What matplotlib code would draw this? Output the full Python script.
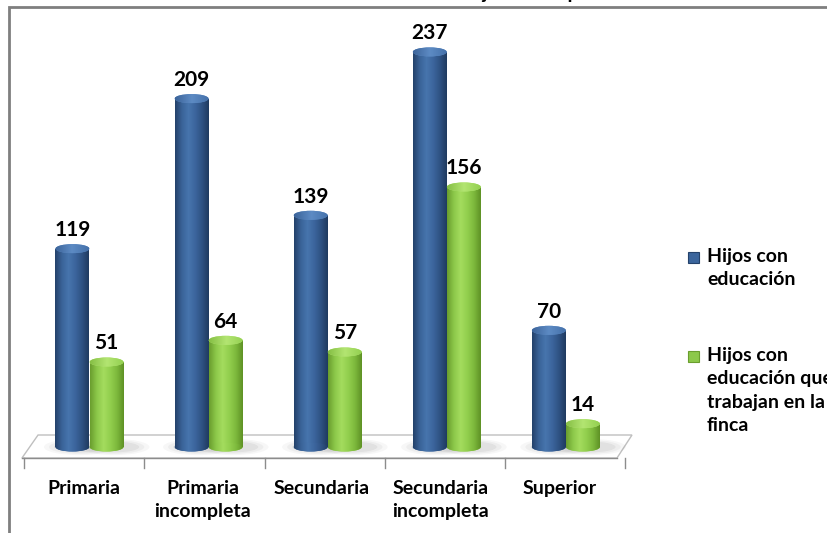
import numpy as np
import matplotlib
matplotlib.use("Agg")
import matplotlib.pyplot as plt
from matplotlib.patches import Rectangle, Ellipse, Polygon
from matplotlib.colors import LinearSegmentedColormap

plt.rcParams['font.family'] = ['Lato', 'DejaVu Sans']

# data
categories = ["Primaria", "Primaria\nincompleta", "Secundaria",
              "Secundaria\nincompleta", "Superior"]
hijos_educacion = [119, 209, 139, 237, 70]
hijos_trabajan = [51, 64, 57, 156, 14]
series_names = ["Hijos con\neducación", "Hijos con\neducación que\ntrabajan en la\nfinca"]
title = "Nivel de educación de los hijos de los productores"

W, H = 828, 533
fig = plt.figure(figsize=(W / 100, H / 100), dpi=100)
ax = fig.add_axes([0, 0, 1, 1])
ax.set_axis_off()

# pixel mapping: category i centre at 89.5 + 119.1*i, value 0 at row 447, 1.667 px per unit
px0, pstep = 89.5, 119.1
py0, pscale = 447, 1.667
ax.set_xlim(-px0 / pstep, (W - px0) / pstep)
ax.set_ylim(-(H - py0) / pscale, py0 / pscale)

bw = 34 / pstep           # cylinder width
eh = 9 / pscale           # ellipse height of caps

blue_cm = LinearSegmentedColormap.from_list(
    "b", ["#24426b", "#3a6398", "#4775ad", "#3c659d", "#2f5283", "#203b60"])
blue_top = LinearSegmentedColormap.from_list("bt", ["#3c649a", "#5d8bc4", "#4571aa"])
green_cm = LinearSegmentedColormap.from_list(
    "g", ["#6a9e2e", "#8cc84a", "#a4dc5e", "#92cf4e", "#7db93c", "#5f9226"])
green_top = LinearSegmentedColormap.from_list("gt", ["#86bf45", "#b3e572", "#93d050"])
grad = np.linspace(0, 1, 64).reshape(1, -1)

# floor (3d base of the chart)
floor = Polygon([(-0.567, -6.6), (4.429, -6.6), (4.555, 7.2), (-0.432, 7.2)],
                closed=True, facecolor="white", edgecolor="#bfbfbf", lw=1.0, zorder=1)
ax.add_patch(floor)
ax.plot([-0.567, 4.429], [-6.6, -6.6], color="#8c8c8c", lw=1.0, zorder=1.5)
for t in np.arange(6) * 1.01 - 0.55:
    ax.plot([t, t], [-6.6, -12.6], color="#8c8c8c", lw=1.0, zorder=1.5)


def cylinder(xc, val, cmap, cmap_top):
    x0, x1 = xc - bw / 2, xc + bw / 2
    # soft shadow on floor
    for k, a in enumerate([0.10, 0.08, 0.06]):
        sh = Ellipse((xc + 0.06, 0), bw * (1.5 + 0.3 * k), eh * (1.2 + 0.3 * k),
                     facecolor="#7f7f7f", edgecolor="none", alpha=a, zorder=2)
        ax.add_patch(sh)
    body = ax.bar(xc, val, width=bw, color=cmap(0.5), edgecolor="none", zorder=3)[0]
    im = ax.imshow(grad, cmap=cmap, extent=[x0, x1, -eh, val], aspect="auto",
                   zorder=3.1, interpolation="bilinear")
    im.set_clip_path(body)
    bottom = Ellipse((xc, 0), bw, eh, facecolor=cmap(0.5), edgecolor="none", zorder=3)
    ax.add_patch(bottom)
    im2 = ax.imshow(grad, cmap=cmap, extent=[x0, x1, -eh, eh], aspect="auto",
                    zorder=3.1, interpolation="bilinear")
    im2.set_clip_path(bottom)
    top = Ellipse((xc, val), bw, eh, facecolor=cmap_top(0.5), edgecolor="none", zorder=4)
    ax.add_patch(top)
    im3 = ax.imshow(grad, cmap=cmap_top, extent=[x0, x1, val - eh, val + eh],
                    aspect="auto", zorder=4.1, interpolation="bilinear")
    im3.set_clip_path(top)
    ax.text(xc, val + 7.5, str(val), ha="center", va="baseline",
            fontsize=15, fontweight="bold", color="black", zorder=5)


x = np.arange(len(categories))
for i in x:
    cylinder(i - 0.143, hijos_educacion[i], blue_cm, blue_top)
    cylinder(i + 0.143, hijos_trabajan[i], green_cm, green_top)

for i, c in enumerate(categories):
    ax.text(i - 0.05, -19.5, c, ha="center", va="top", fontsize=14,
            fontweight="bold", linespacing=1.45, color="black")

ax.set_xlim(-px0 / pstep, (W - px0) / pstep)
ax.set_ylim(-(H - py0) / pscale, py0 / pscale)


def fx(p):
    return p / W


def fy(p):
    return 1 - p / H


# outer frame (cut off at right and bottom)
fig.patches.append(Rectangle((fx(9), fy(700)), 2.0, fy(7) - fy(700),
                             transform=fig.transFigure, fill=False,
                             edgecolor="#7f7f7f", lw=2.0, zorder=0))

# title, mostly cut off at top
fig.text(fx(457), fy(-0.5), title, ha="center", va="baseline",
         fontsize=14, fontweight="bold", color="black")

# legend
legend_colors = [(blue_cm, "#3b659c"), (green_cm, "#8cc84a")]
legend_rows = [252, 351]
for (cm, col), row, name in zip(legend_colors, legend_rows, series_names):
    fig.patches.append(Rectangle((fx(688), fy(row + 11)), fx(11), 11 / H,
                                 transform=fig.transFigure, facecolor=col,
                                 edgecolor=cm(0.0), lw=0.8))
    fig.text(fx(707), fy(row - 4), name, ha="left", va="top", fontsize=14,
             fontweight="bold", linespacing=1.45, color="black")

fig.savefig("out.png", dpi=100)
